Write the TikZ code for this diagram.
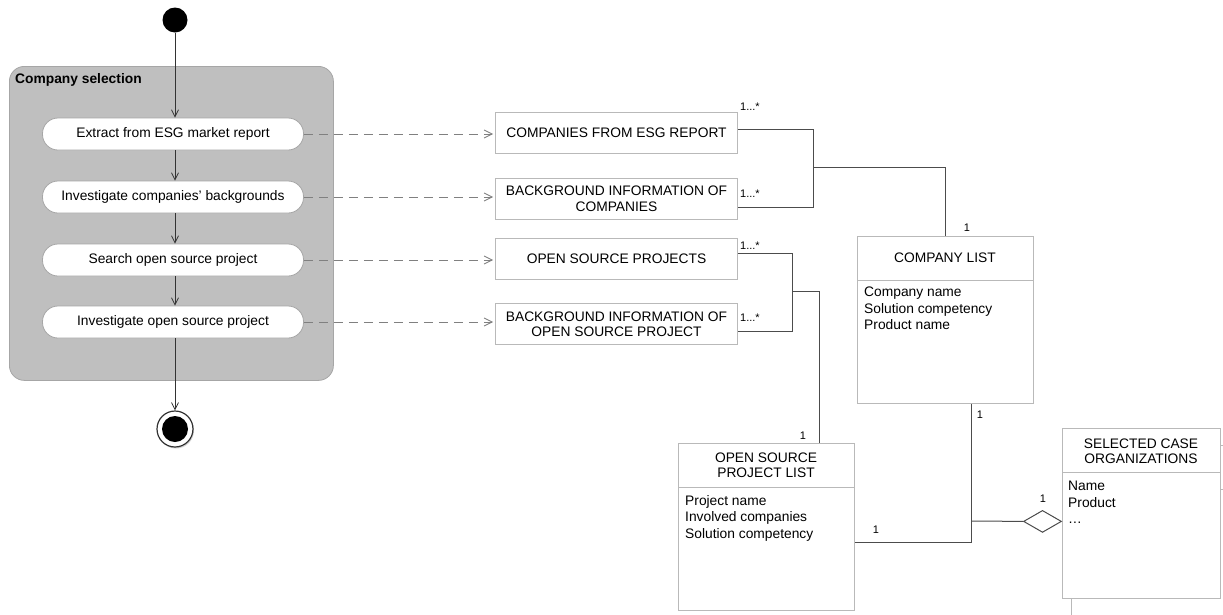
\documentclass[tikz,border=0pt]{standalone}
\usepackage{fontspec}
\setmainfont{Liberation Sans}
\usetikzlibrary{arrows.meta,shapes.geometric,shadows}
\begin{document}
\begin{tikzpicture}[x=1pt,y=-1pt,
  txt/.style={font=\fontsize{13.8pt}{16.5pt}\selectfont},
  small/.style={font=\fontsize{11pt}{13pt}\selectfont, inner sep=0pt},
  act/.style={txt, draw=gray!70, fill=white, rounded corners=15.5pt,
    minimum width=261pt, minimum height=32pt, inner sep=0pt, line width=0.8pt},
  databox/.style={font=\fontsize{13.8pt}{15.5pt}\selectfont, draw=gray!55, fill=white,
    minimum width=242pt, minimum height=41pt, inner sep=0pt, align=center, line width=0.8pt},
  clsbox/.style={draw=gray!55, fill=white, line width=0.8pt, inner sep=0pt},
  clsline/.style={draw=gray!55, line width=0.8pt},
  clstitle/.style={font=\fontsize{13.8pt}{15.5pt}\selectfont, align=center, inner sep=0pt},
  clsattr/.style={txt, anchor=north west, align=left, inner sep=0pt},
  flow/.style={draw=black!80, line width=0.8pt, -{Straight Barb[length=7pt,width=7pt]}},
  trace/.style={draw=black!50, line width=0.9pt, dash pattern=on 9pt off 6pt,
    -{Straight Barb[length=8pt,width=8pt]}, shorten >=2pt},
  assoc/.style={draw=black!70, line width=1pt},
]
\useasboundingbox (0,0) rectangle (1223,614);

% activity container
\node[draw=gray!70, fill=gray!50, rounded corners=15pt, line width=0.8pt,
  minimum width=324pt, minimum height=314pt, anchor=north west] (cs) at (9,66) {};
\node[anchor=west, inner sep=0pt, font=\bfseries\fontsize{13.8pt}{16pt}\selectfont] (cstitle) at (15,80) {Company selection};

% start / end
\node[circle, fill=black, minimum size=25pt, inner sep=0pt] (start) at (175,20) {};
\node[circle, draw=black!80, line width=1.2pt, fill=white, minimum size=36pt, inner sep=0pt,
  drop shadow={opacity=0.35, shadow xshift=1pt, shadow yshift=-1.5pt}] (end) at (175,429) {};
\node[circle, fill=black, minimum size=26pt, inner sep=0pt] (endin) at (end.center) {};

% activities
\node[act] (a1) at (173,134) {Extract from ESG market report};
\node[act] (a2) at (173,197) {Investigate companies’ backgrounds};
\node[act] (a3) at (173,260) {Search open source project};
\node[act] (a4) at (173,322) {Investigate open source project};

\draw[flow] (start) -- (start |- a1.north);
\draw[flow] (start |- a1.south) -- (start |- a2.north);
\draw[flow] (start |- a2.south) -- (start |- a3.north);
\draw[flow] (start |- a3.south) -- (start |- a4.north);
\draw[flow] (start |- a4.south) -- (end);

% data objects
\node[databox] (d1) at (616.5,132.5) {COMPANIES FROM ESG REPORT};
\node[databox] (d2) at (616.5,198.5) {BACKGROUND INFORMATION OF\\COMPANIES};
\node[databox] (d3) at (616.5,258.5) {OPEN SOURCE PROJECTS};
\node[databox] (d4) at (616.5,324) {BACKGROUND INFORMATION OF\\OPEN SOURCE PROJECT};

\draw[trace] (a1.east) -- (a1.east -| d1.west);
\draw[trace] (a2.east) -- (a2.east -| d2.west);
\draw[trace] (a3.east) -- (a3.east -| d3.west);
\draw[trace] (a4.east) -- (a4.east -| d4.west);

% class: company list
\node[clsbox, minimum width=176pt, minimum height=167pt, anchor=north west] (cl) at (857,236) {};
\draw[clsline] ([yshift=-44pt]cl.north west) -- ([yshift=-44pt]cl.north east);
\node[clstitle] (cltitle) at (945,258) {COMPANY LIST};
\node[clsattr] (clattr) at (864,287) {Company name\\Solution competency\\Product name};

% class: open source project list
\node[clsbox, minimum width=176pt, minimum height=167pt, anchor=north west] (os) at (678,443) {};
\draw[clsline] ([yshift=-44pt]os.north west) -- ([yshift=-44pt]os.north east);
\node[clstitle] (ostitle) at (766,465) {OPEN SOURCE\\PROJECT LIST};
\node[clsattr] (osattr) at (685,495) {Project name\\Involved companies\\Solution competency};

% class: selected case organizations
\node[clsbox, minimum width=158pt, minimum height=170pt, anchor=north west] (sco) at (1062,428) {};
\draw[clsline] ([yshift=-44pt]sco.north west) -- ([yshift=-44pt]sco.north east);
\node[clstitle] (scotitle) at (1141,451) {SELECTED CASE\\ORGANIZATIONS};
\node[clsattr] (scoattr) at (1068,481) {Name\\Product\\\ldots};
\draw[clsline] ([yshift=-17pt]sco.north east) -- ++(4,0);
\draw[clsline] ([yshift=-61pt]sco.north east) -- ++(4,0);
\draw[clsline] ([xshift=9pt]sco.south west) -- ++(0,18);

% associations
\coordinate (j1) at (813,167);
\draw[assoc] ([yshift=3.5pt]d1.east) -| (j1) |- ([yshift=-8.5pt]d2.east);
\draw[assoc] (j1) -| (cl.north);

\coordinate (j2) at (792,291);
\draw[assoc] ([yshift=5.5pt]d3.east) -| (j2) |- ([yshift=-7pt]d4.east);
\draw[assoc] (j2) -| ([xshift=53pt]os.north);

\node[diamond, draw=black!70, line width=1pt, fill=white, minimum width=38pt,
  minimum height=22pt, inner sep=0pt, anchor=east] (dia) at ([yshift=-8pt]sco.west) {};
\coordinate (j3) at (971,521);
\draw[assoc] ([xshift=26pt]cl.south) |- ([yshift=-15.5pt]os.east);
\draw[assoc] (j3) -- (dia.west);

% multiplicities
\node[small, anchor=west] (m1) at (740,107) {1...*};
\node[small, anchor=west] (m2) at (740,194) {1...*};
\node[small, anchor=west] (m3) at (740,246) {1...*};
\node[small, anchor=west] (m4) at (740,318) {1...*};
\node[small] (m5) at (967,228) {1};
\node[small] (m6) at (803,436) {1};
\node[small] (m7) at (980,415) {1};
\node[small] (m8) at (876,530) {1};
\node[small] (m9) at (1043,499) {1};
\end{tikzpicture}
\end{document}
